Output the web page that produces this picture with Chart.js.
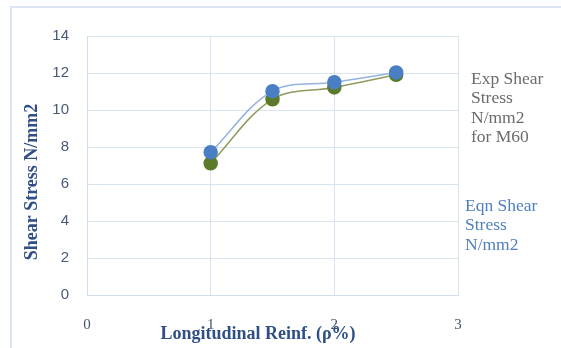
<!DOCTYPE html>
<html>
<head>
<meta charset="utf-8">
<title>Shear Stress vs Longitudinal Reinforcement</title>
<script src="https://cdn.jsdelivr.net/npm/chart.js"></script>
<style>
  html, body { margin: 0; padding: 0; background: #fff; }
  #wrap { position: relative; width: 561px; height: 348px; }
  #frame { position: absolute; left: 10px; top: 6px; width: 560px; height: 350px;
           border-left: 2px solid #dbe5f3; border-top: 2px solid #dbe5f3; box-sizing: border-box; }
</style>
</head>
<body>
<div id="wrap">
  <div id="frame"></div>
  <canvas id="grafica" width="561" height="348"></canvas>
</div>
<script>
// longitudinal reinforcement (%)
const reinf = [1, 1.5, 2, 2.5];
// shear stress, N/mm2
const expShear = [7.12, 10.58, 11.22, 11.9];
const eqnShear = [7.72, 11.02, 11.5, 12.03];
const expLabel = ['Exp Shear', 'Stress', 'N/mm2', 'for M60'];
const eqnLabel = ['Eqn Shear', 'Stress', 'N/mm2'];
const xTicks = [0, 1, 2, 3];
const yTicks = [0, 2, 4, 6, 8, 10, 12, 14];
const xTitle = 'Longitudinal Reinf. (ρ%)';
const yTitle = 'Shear Stress N/mm2';

const pts = vals => reinf.map((x, i) => ({ x: x, y: vals[i] }));
const tituloColor = '#2f4f86';
const tituloFont = 'bold 18px "Liberation Serif", serif';

// axis titles + legend text on the right
const textos = {
  id: 'textos',
  afterDraw(chart) {
    const ctx = chart.ctx;
    ctx.save();
    ctx.textBaseline = 'middle';

    ctx.font = tituloFont;
    ctx.fillStyle = tituloColor;
    ctx.textAlign = 'center';
    ctx.fillText(xTitle, 258, 334);
    ctx.save();
    ctx.translate(32, 182);
    ctx.rotate(-Math.PI / 2);
    ctx.fillText(yTitle, 0, 0);
    ctx.restore();

    ctx.textAlign = 'left';
    ctx.font = '17.5px "Liberation Serif", serif';
    ctx.fillStyle = '#6b6b6b';
    expLabel.forEach((t, i) => ctx.fillText(t, 471, 79 + i * 19.6));
    ctx.fillStyle = '#4f7fc0';
    eqnLabel.forEach((t, i) => ctx.fillText(t, 465, 206 + i * 19.6));
    ctx.restore();
  }
};

new Chart(document.getElementById('grafica'), {
  type: 'scatter',
  data: {
    datasets: [
      {
        label: eqnLabel.join(' '),
        data: pts(eqnShear),
        showLine: true,
        tension: 0.35,
        borderColor: '#94b3de',
        borderWidth: 1.5,
        backgroundColor: '#4a7fc4',
        pointBorderColor: '#4a7fc4',
        pointRadius: 6.5
      },
      {
        label: expLabel.join(' '),
        data: pts(expShear),
        showLine: true,
        tension: 0.35,
        borderColor: '#8e9c5e',
        borderWidth: 1.5,
        backgroundColor: '#5b7b2a',
        pointBorderColor: '#5b7b2a',
        pointRadius: 6.5
      }
    ]
  },
  options: {
    responsive: false,
    animation: false,
    layout: { padding: { left: 10, top: 36, right: 103, bottom: 0 } },
    plugins: { legend: { display: false }, tooltip: { enabled: false } },
    scales: {
      x: {
        type: 'linear',
        min: 0, max: 3,
        afterBuildTicks: s => { s.ticks = xTicks.map(v => ({ value: v })); },
        afterFit: s => { s.height = 53; },
        grid: { color: '#d9e4f2', drawTicks: false },
        border: { color: '#d0ddef' },
        ticks: { padding: 21, color: '#44546a', font: { family: '"Liberation Serif", serif', size: 15 } },
        title: { display: false }
      },
      y: {
        min: 0, max: 14,
        afterBuildTicks: s => { s.ticks = yTicks.map(v => ({ value: v })); },
        afterFit: s => { s.width = 77; },
        grid: { color: '#d9e4f2', drawTicks: false },
        border: { color: '#d0ddef' },
        ticks: { padding: 18, color: '#475a78', font: { family: '"Liberation Sans", sans-serif', size: 15 } },
        title: { display: false }
      }
    }
  },
  plugins: [textos]
});
</script>
</body>
</html>
